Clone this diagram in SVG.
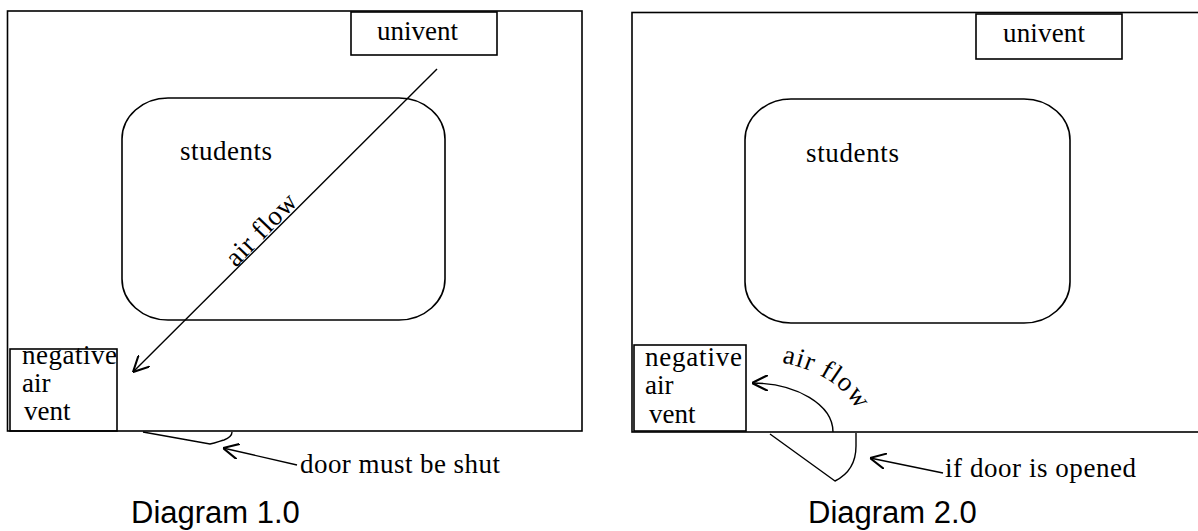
<svg xmlns="http://www.w3.org/2000/svg" width="1198" height="531" viewBox="0 0 1198 531">
<style>
.box{fill:none;stroke:#000;stroke-width:1.6}
.ln{fill:none;stroke:#000;stroke-width:1.4}
.t{font-family:"Liberation Serif","Times New Roman",serif;font-size:27px;fill:#000}
.cap{font-family:"Liberation Sans",Arial,sans-serif;font-size:31px;fill:#000}
</style>
<defs>
<marker id="arr" viewBox="0 0 10 10" refX="10" refY="5" markerWidth="16" markerHeight="16" markerUnits="userSpaceOnUse" orient="auto">
<path d="M0,0 L10,5 L0,10" fill="none" stroke="#000" stroke-width="1.3"/>
</marker>
<path id="arcText" d="M752,360 A110,72 0 0 1 862,432"/>
</defs>
<rect width="1198" height="531" fill="#fff"/>

<!-- Diagram 1 -->
<g id="d1-frame"><rect class="box" x="7.5" y="11" width="574.5" height="420"/></g>
<g id="d1-univent">
<rect class="box" x="351" y="12" width="146" height="43" fill="#fff"/>
<text class="t" x="377" y="40" textLength="81" lengthAdjust="spacing">univent</text>
</g>
<g id="d1-students">
<rect class="box" x="122" y="98" width="323" height="222" rx="46" ry="41"/>
<text class="t" x="180" y="160" textLength="92" lengthAdjust="spacing">students</text>
</g>
<g id="d1-vent">
<rect class="box" x="10" y="349" width="107" height="82"/>
<text class="t" x="22" y="364" textLength="95" lengthAdjust="spacing">negative</text>
<text class="t" x="22" y="392">air</text>
<text class="t" x="24" y="420">vent</text>
</g>
<g id="d1-door">
<path class="ln" d="M143,432 L210,444 C216,443 220,441 224,440 C229,438 232,435 232,432"/>
</g>
<g id="d1-labels">
<text class="t" transform="translate(236,268) rotate(-46)" textLength="90" lengthAdjust="spacing">air flow</text>
<text class="t" x="300" y="473" textLength="200" lengthAdjust="spacing">door must be shut</text>
<text class="cap" x="131" y="523">Diagram 1.0</text>
</g>

<!-- Diagram 2 -->
<g id="d2-frame"><rect class="box" x="632" y="12.5" width="700" height="419.5"/></g>
<g id="d2-univent">
<rect class="box" x="976" y="14" width="146" height="45"/>
<text class="t" x="1003" y="42" textLength="82" lengthAdjust="spacing">univent</text>
</g>
<g id="d2-students">
<rect class="box" x="745" y="99" width="325" height="224" rx="46" ry="41"/>
<text class="t" x="806" y="162" textLength="93" lengthAdjust="spacing">students</text>
</g>
<g id="d2-vent">
<rect class="box" x="634" y="345" width="112" height="86"/>
<text class="t" x="645" y="366" textLength="97" lengthAdjust="spacing">negative</text>
<text class="t" x="645" y="394">air</text>
<text class="t" x="649" y="423">vent</text>
</g>
<g id="d2-door">
<path class="ln" d="M770,434 L835,481 C849,474 856,462 856,446 L856,433"/>
</g>
<g id="d2-labels">
<text class="t" letter-spacing="1"><textPath href="#arcText" startOffset="30">air flow</textPath></text>
<text class="t" x="945" y="477" textLength="191" lengthAdjust="spacing">if door is opened</text>
<text class="cap" x="808" y="523">Diagram 2.0</text>
</g>

<g id="connectors">
<line class="ln" x1="437" y1="69" x2="133" y2="372" marker-end="url(#arr)"/>
<line class="ln" x1="297" y1="465" x2="223" y2="448" marker-end="url(#arr)"/>
<path class="ln" d="M833,432 A81,49 0 0 0 752,383" marker-end="url(#arr)"/>
<line class="ln" x1="943" y1="473" x2="870" y2="458" marker-end="url(#arr)"/>
</g>
</svg>
